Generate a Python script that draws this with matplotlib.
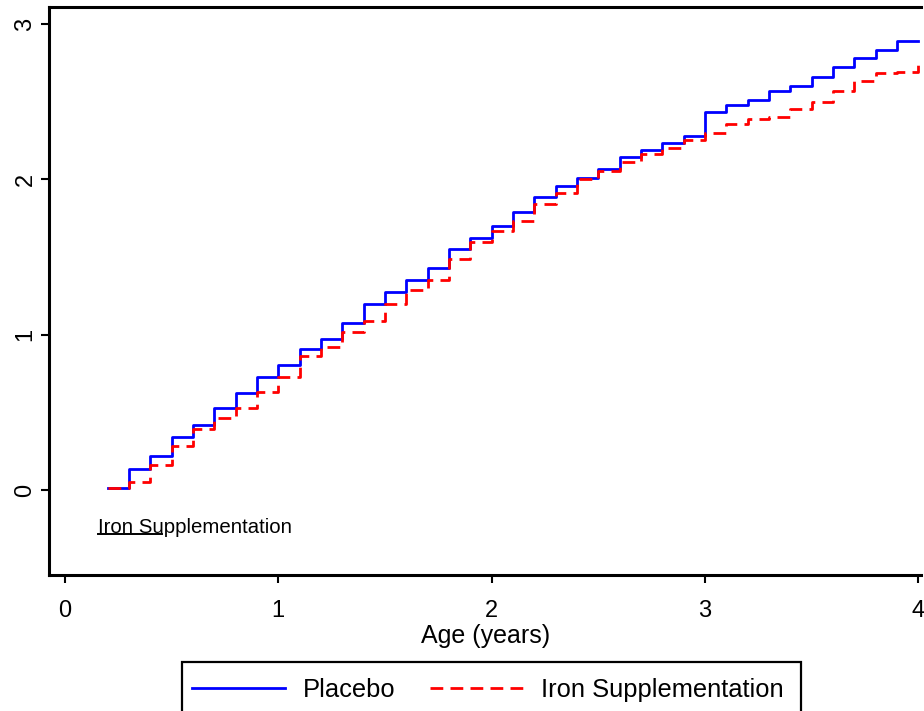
import matplotlib
matplotlib.use("Agg")
import matplotlib.pyplot as plt
from matplotlib.patches import Rectangle

plt.rcParams["font.family"] = ["Liberation Sans", "DejaVu Sans"]

# ── data: cumulative curves (step at each age) ──
ages = [0.2, 0.3, 0.4, 0.5, 0.6, 0.7, 0.8, 0.9, 1.0, 1.1,
        1.2, 1.3, 1.4, 1.5, 1.6, 1.7, 1.8, 1.9, 2.0, 2.1,
        2.2, 2.3, 2.4, 2.5, 2.6, 2.7, 2.8, 2.9, 3.0, 3.1,
        3.2, 3.3, 3.4, 3.5, 3.6, 3.7, 3.8, 3.9, 4.0]

placebo = [0.012, 0.133, 0.221, 0.343, 0.420, 0.526, 0.623, 0.726, 0.805, 0.911,
           0.970, 1.077, 1.198, 1.273, 1.352, 1.428, 1.550, 1.625, 1.700, 1.792,
           1.885, 1.960, 2.007, 2.065, 2.142, 2.187, 2.234, 2.282, 2.433, 2.479,
           2.510, 2.571, 2.600, 2.660, 2.724, 2.784, 2.831, 2.891, 2.891]

iron = [0.012, 0.054, 0.161, 0.283, 0.393, 0.466, 0.528, 0.633, 0.726, 0.864,
        0.924, 1.015, 1.090, 1.198, 1.290, 1.352, 1.487, 1.595, 1.670, 1.732,
        1.840, 1.914, 2.005, 2.054, 2.112, 2.162, 2.204, 2.252, 2.297, 2.355,
        2.389, 2.402, 2.451, 2.497, 2.569, 2.634, 2.683, 2.693, 2.754]

x_ticks = [0, 1, 2, 3, 4]
y_ticks = [0, 1, 2, 3]

W, H = 924, 711
fig = plt.figure(figsize=(W / 100, H / 100), dpi=100, facecolor="white")
ax = fig.add_axes([0.053, 0.1906, 0.944, 0.799])

l1, = ax.plot(ages, placebo, drawstyle="steps-post", color="#0000ff",
              linewidth=2.0, label="Placebo")
l2, = ax.plot(ages, iron, drawstyle="steps-post", color="#ff0000",
              linewidth=2.0, dashes=(4.6, 2.6), label="Iron Supplementation")

# stray label left inside the plot area
ax.text(0.155, -0.277, "Iron Supplementation", fontsize=14.7, ha="left",
        va="baseline", color="black")
ax.plot([0.155, 0.455], [-0.283, -0.283], color="black", linewidth=1.4)

ax.set_xlim(-0.075, 4.014)
ax.set_ylim(-0.55, 3.1075)
ax.set_xticks(x_ticks)
ax.set_yticks(y_ticks)
ax.tick_params(axis="x", labelsize=17, length=6, width=1.5, pad=12)
ax.tick_params(axis="y", labelsize=17, length=6, width=1.5, pad=3)
for lab in ax.get_yticklabels():
    lab.set_rotation(90)
    lab.set_va("center")

ax.set_xlabel("Age (years)", fontsize=18, labelpad=1)

for side in ["left", "bottom", "top"]:
    ax.spines[side].set_linewidth(2.2)
ax.spines["right"].set_visible(False)

# legend box runs off the bottom of the image
fig.patches.append(Rectangle((182 / W, -0.05), (801 - 182) / W, 0.05 + 1 - 662 / H,
                             transform=fig.transFigure, facecolor="white",
                             edgecolor="black", linewidth=1.6))
fig.legend(handles=[l1, l2], loc="center left",
           bbox_to_anchor=(192 / W, 1 - 690 / H), ncol=2,
           fontsize=18.4, handlelength=3.65, handletextpad=0.7,
           columnspacing=1.35, borderpad=0, borderaxespad=0,
           frameon=False)

fig.savefig("out.png", dpi=100, facecolor="white")
